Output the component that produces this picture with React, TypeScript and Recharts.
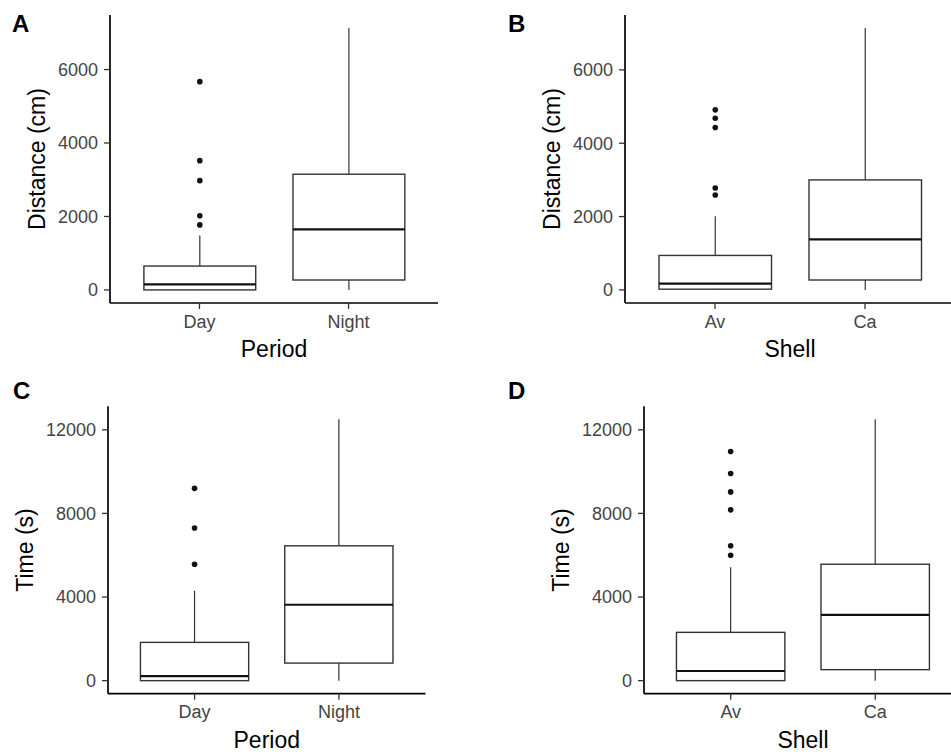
import { BarChart, Bar, XAxis, YAxis } from "recharts";

const FONT = "'Liberation Sans', Arial, sans-serif";

const PERIODS = ["Day", "Night"];
const SHELLS = ["Av", "Ca"];

// each box: [lower whisker, Q1, median, Q3, upper whisker]
const DIST_BY_PERIOD = [
  [0, 0, 150, 650, 1480],
  [0, 270, 1650, 3150, 7130],
];
const DIST_BY_PERIOD_OUT = [[5670, 3520, 2975, 2020, 1770], []];

const DIST_BY_SHELL = [
  [0, 20, 170, 940, 2010],
  [0, 270, 1380, 3000, 7140],
];
const DIST_BY_SHELL_OUT = [[4910, 4680, 4430, 2780, 2590], []];

const TIME_BY_PERIOD = [
  [0, 0, 220, 1830, 4300],
  [0, 840, 3630, 6450, 12500],
];
const TIME_BY_PERIOD_OUT = [[9200, 7300, 5570], []];

const TIME_BY_SHELL = [
  [0, 0, 460, 2310, 5420],
  [0, 525, 3150, 5570, 12500],
];
const TIME_BY_SHELL_OUT = [[10960, 9910, 9030, 8170, 6450, 6000], []];

const DIST_TICKS = [0, 2000, 4000, 6000];
const TIME_TICKS = [0, 4000, 8000, 12000];

function toRows(cats: string[], stats: number[][], outs: number[][]) {
  return cats.map((c, i) => ({
    cat: c,
    stats: stats[i],
    out: outs[i],
    lo: Math.min(stats[i][0], ...outs[i]),
    hi: Math.max(stats[i][4], ...outs[i]),
  }));
}

// box drawn inside the range bar [lo, hi] the library positions for us
function BoxShape(props: any) {
  const { x, y, width, height, payload } = props;
  const { lo, hi, stats, out } = payload;
  const top = Math.min(y, y + height);
  const h = Math.abs(height);
  const py = (v: number) => top + ((hi - v) / (hi - lo)) * h;
  const cx = x + width / 2;
  const [wl, q1, med, q3, wh] = stats;
  return (
    <g>
      <line x1={cx} x2={cx} y1={py(wh)} y2={py(q3)} stroke="#333" strokeWidth={1.2} />
      <line x1={cx} x2={cx} y1={py(q1)} y2={py(wl)} stroke="#333" strokeWidth={1.2} />
      <rect x={x} y={py(q3)} width={width} height={py(q1) - py(q3)} fill="#fff" stroke="#333" strokeWidth={1.4} />
      <line x1={x} x2={x + width} y1={py(med)} y2={py(med)} stroke="#111" strokeWidth={2.2} />
      {out.map((v: number, i: number) => (
        <circle key={i} cx={cx} cy={py(v)} r={2.8} fill="#111" />
      ))}
    </g>
  );
}

const yTitle = (text: string, gap: number) => (props: any) => {
  const vb = props.viewBox;
  const bx = vb.x + vb.width - gap;
  const cy = vb.y + vb.height / 2;
  return (
    <text x={bx} y={cy} transform={`rotate(-90, ${bx}, ${cy})`} textAnchor="middle" fontSize={23} fill="#000" fontFamily={FONT}>
      {text}
    </text>
  );
};

const xTitle = (text: string) => (props: any) => {
  const vb = props.viewBox;
  return (
    <text x={vb.x + vb.width / 2} y={vb.y + 54} textAnchor="middle" fontSize={23} fill="#000" fontFamily={FONT}>
      {text}
    </text>
  );
};

function Panel(p: {
  left: number; top: number; width: number; height: number;
  mTop: number; mRight: number; yWidth: number; xHeight: number;
  rows: any[]; domain: number[]; ticks: number[];
  xLabel: string; yLabel: string; titleGap: number;
}) {
  const plotW = p.width - p.yWidth - p.mRight;
  const band = plotW / 2.2;
  const pad = band * 0.1;
  return (
    <div style={{ position: "absolute", left: p.left, top: p.top }}>
      <BarChart width={p.width} height={p.height} data={p.rows} margin={{ top: p.mTop, right: p.mRight, bottom: 0, left: 0 }}>
        <XAxis
          dataKey="cat"
          height={p.xHeight}
          padding={{ left: pad, right: pad }}
          tick={{ fontSize: 18, fill: "#444", fontFamily: FONT }}
          tickSize={6}
          tickMargin={6}
          tickLine={{ stroke: "#333", strokeWidth: 1.3 }}
          axisLine={{ stroke: "#000", strokeWidth: 1.7 }}
          label={{ content: xTitle(p.xLabel) }}
        />
        <YAxis
          type="number"
          width={p.yWidth}
          domain={p.domain}
          ticks={p.ticks}
          interval={0}
          allowDataOverflow
          tick={{ fontSize: 18, fill: "#444", fontFamily: FONT }}
          tickSize={6}
          tickMargin={6}
          tickLine={{ stroke: "#333", strokeWidth: 1.3 }}
          axisLine={{ stroke: "#000", strokeWidth: 1.7 }}
          label={{ content: yTitle(p.yLabel, p.titleGap) }}
        />
        <Bar dataKey={(d: any) => [d.lo, d.hi]} barSize={band * 0.75} shape={<BoxShape />} isAnimationActive={false} />
      </BarChart>
    </div>
  );
}

const letterStyle = (left: number, top: number): any => ({
  position: "absolute",
  left,
  top,
  fontFamily: FONT,
  fontWeight: "bold",
  fontSize: 24,
  lineHeight: "24px",
  color: "#000",
});

export default function App() {
  return (
    <div style={{ position: "absolute", left: 0, top: 0, width: 951, height: 754, overflow: "hidden", background: "#fff", fontFamily: FONT }}>
      <Panel
        left={0} top={0} width={475} height={377}
        mTop={15} mRight={37} yWidth={110} xHeight={74}
        rows={toRows(PERIODS, DIST_BY_PERIOD, DIST_BY_PERIOD_OUT)}
        domain={[-356, 7485]} ticks={DIST_TICKS}
        xLabel="Period" yLabel="Distance (cm)" titleGap={65}
      />
      <Panel
        left={475} top={0} width={480} height={377}
        mTop={15} mRight={0} yWidth={150} xHeight={74}
        rows={toRows(SHELLS, DIST_BY_SHELL, DIST_BY_SHELL_OUT)}
        domain={[-357, 7497]} ticks={DIST_TICKS}
        xLabel="Shell" yLabel="Distance (cm)" titleGap={65}
      />
      <Panel
        left={0} top={377} width={475} height={377}
        mTop={29.3} mRight={49.5} yWidth={108} xHeight={60.3}
        rows={toRows(PERIODS, TIME_BY_PERIOD, TIME_BY_PERIOD_OUT)}
        domain={[-625, 13125]} ticks={TIME_TICKS}
        xLabel="Period" yLabel="Time (s)" titleGap={75}
      />
      <Panel
        left={475} top={377} width={487} height={377}
        mTop={29.3} mRight={0} yWidth={169} xHeight={60.3}
        rows={toRows(SHELLS, TIME_BY_SHELL, TIME_BY_SHELL_OUT)}
        domain={[-625, 13125]} ticks={TIME_TICKS}
        xLabel="Shell" yLabel="Time (s)" titleGap={75}
      />
      <div style={letterStyle(12, 12)}>A</div>
      <div style={letterStyle(508, 12)}>B</div>
      <div style={letterStyle(13, 379)}>C</div>
      <div style={letterStyle(508, 379)}>D</div>
    </div>
  );
}
